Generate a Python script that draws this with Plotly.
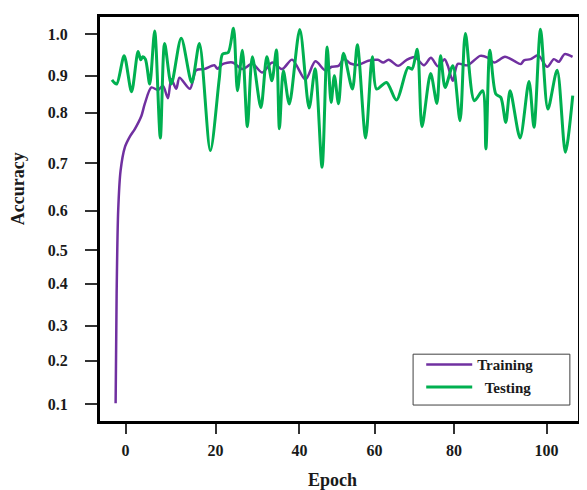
import plotly.graph_objects as go

# ---------------- data ----------------
train_epoch = [-2.36, -2.12, -1.75, -1.18, -0.17, 1.02, 2.20, 3.78, 4.56, 6.14, 7.70, 8.88,
               10.06, 10.86, 12.04, 12.82, 15.30, 16.76, 18.72, 21.08, 21.86, 23.04, 25.40,
               27.76, 30.12, 32.48, 34.84, 37.20, 39.57, 42.73, 45.09, 47.45, 49.01, 50.59,
               51.89, 53.42, 55.31, 57.67, 59.92, 61.21, 62.51, 64.75, 66.71, 68.70, 70.89,
               72.54, 74.20, 75.78, 76.56, 77.74, 78.92, 81.28, 84.23, 86.00, 87.58, 90.13,
               92.30, 93.86, 94.66, 96.22, 98.04, 100.17, 101.75, 102.93, 104.30, 106.19]
train_acc = [0.1025, 0.369, 0.571, 0.668, 0.7246, 0.7505, 0.769, 0.8014, 0.830, 0.870, 0.8637,
             0.8741, 0.8438, 0.890, 0.8668, 0.8935, 0.8668, 0.9117, 0.9146, 0.9238, 0.9153,
             0.9267, 0.9306, 0.9146, 0.9274, 0.9063, 0.9306, 0.9146, 0.9376, 0.8891, 0.9335,
             0.9114, 0.9202, 0.9226, 0.9396, 0.9282, 0.9250, 0.9347, 0.9371, 0.9306, 0.9376,
             0.9226, 0.9364, 0.9437, 0.9238, 0.942, 0.9214, 0.9388, 0.9226, 0.8862, 0.9274,
             0.9238, 0.9468, 0.9427, 0.9306, 0.9444, 0.9347, 0.9267, 0.9359, 0.9388, 0.948,
             0.9202, 0.9388, 0.9323, 0.951, 0.9444]

test_epoch = [-3.23, -2.12, -0.33, 1.42, 2.97, 3.61, 4.08, 4.72, 5.74, 6.92, 8.26, 9.28,
              10.86, 13.22, 15.72, 17.54, 20.14, 22.26, 23.04, 24.39, 25.64, 26.58, 27.76,
              28.94, 30.12, 32.15, 33.56, 34.77, 35.84, 36.55, 37.49, 38.9, 41.39, 43.6,
              45.04, 46.68, 47.89, 48.83, 49.61, 50.59, 51.77, 53.89, 55.07, 57.03, 58.61,
              59.63, 61.99, 64.35, 67.11, 68.06, 69.31, 70.42, 72.47, 73.96, 74.83, 75.92,
              77.74, 79.46, 80.73, 82.86, 84.82, 85.60, 86.54, 87.96, 89.14, 90.32, 91.36,
              93.72, 95.84, 97.03, 98.58, 100.33, 102.52, 104.48, 106.23]
test_acc = [0.8886, 0.8782, 0.9468, 0.8596, 0.9572, 0.9371, 0.9444, 0.9388, 0.8782, 1.0074,
            0.7473, 0.9766, 0.8782, 0.9897, 0.8821, 0.9766, 0.7165, 0.891, 0.951, 0.9548,
            1.0139, 0.862, 0.9606, 0.7747, 0.9444, 0.8215, 0.9444, 0.8862, 0.9613, 0.7698,
            0.9105, 0.8297, 1.0111, 0.820, 0.9153, 0.676, 0.9686, 0.8336, 0.8983, 0.8305,
            0.9529, 0.8661, 0.9735, 0.7473, 0.9444, 0.8661, 0.8821, 0.8394, 0.9185, 0.9146,
            0.9631, 0.7747, 0.9039, 0.8312, 0.9468, 0.870, 0.9226, 0.7893, 1.0009, 0.8377,
            0.862, 0.7207, 0.9606, 0.854, 0.8457, 0.7851, 0.862, 0.7473, 0.8845, 0.773,
            1.0115, 0.8176, 0.9121, 0.7124, 0.8499]

# tick labels as printed on the reference (its tick spacing is irregular)
x_tick_pos = [0, 21.39, 41.31, 59.16, 78.05, 100.0]
x_tick_labels = ["0", "20", "40", "60", "80", "100"]
y_tick_pos = [0.1, 0.2057, 0.2915, 0.3933, 0.4747, 0.5702, 0.6865, 0.8084, 0.8988, 1.0]
y_tick_labels = ["0.1", "0.2", "0.3", "0.4", "0.5", "0.6", "0.7", "0.8", "0.9", "1.0"]

# ---------------- figure ----------------
SERIF = "Times New Roman, Liberation Serif, serif"

fig = go.Figure()
fig.add_trace(go.Scatter(
    x=train_epoch, y=train_acc, mode="lines", name="Training",
    line=dict(color="#7030A0", width=2.5, shape="spline", smoothing=0.8),
))
fig.add_trace(go.Scatter(
    x=test_epoch, y=test_acc, mode="lines", name="\u00a0\u00a0Testing",
    line=dict(color="#00B050", width=3, shape="spline", smoothing=0.8),
))

axis_common = dict(
    showline=True, mirror=True, linecolor="black", linewidth=3,
    showgrid=False, zeroline=False,
    ticks="outside", tickcolor="#333333", tickwidth=1.5,
    tickfont=dict(family=SERIF, size=16, color="#1a1a1a", weight="bold"),
)

fig.update_xaxes(
    range=[-6.07, 107.48], tickmode="array", tickvals=x_tick_pos, ticktext=x_tick_labels,
    ticklen=10, ticklabelstandoff=3, **axis_common,
)
fig.update_yaxes(
    range=[0.0595, 1.0412], tickmode="array", tickvals=y_tick_pos, ticktext=y_tick_labels,
    ticklen=12, ticklabelstandoff=14, **axis_common,
)

fig.add_annotation(text="Accuracy", xref="paper", yref="paper", x=-0.1726, y=0.575,
                   textangle=-90, showarrow=False, xanchor="center", yanchor="middle",
                   font=dict(family=SERIF, size=18, color="#1a1a1a", weight="bold"))
fig.add_annotation(text="Epoch", xref="paper", yref="paper", x=0.4865, y=-0.1457,
                   showarrow=False, xanchor="center", yanchor="middle",
                   font=dict(family=SERIF, size=18, color="#1a1a1a", weight="bold"))

# legend frame
fig.add_shape(type="rect", xref="paper", yref="paper", x0=0.655, x1=0.983, y0=0.0395, y1=0.1654,
              line=dict(color="#404040", width=1), fillcolor="white", layer="above")

fig.update_layout(
    width=579, height=482, autosize=False,
    margin=dict(l=92, r=6, t=8, b=69),
    paper_bgcolor="white", plot_bgcolor="white",
    showlegend=True,
    legend=dict(
        x=0.672, y=0.18, xanchor="left", yanchor="top",
        bgcolor="rgba(0,0,0,0)", borderwidth=0,
        font=dict(family=SERIF, size=15, color="#1a1a1a", weight="bold"),
        itemwidth=46, tracegroupgap=0,
    ),
)

fig.write_html("out.html")
